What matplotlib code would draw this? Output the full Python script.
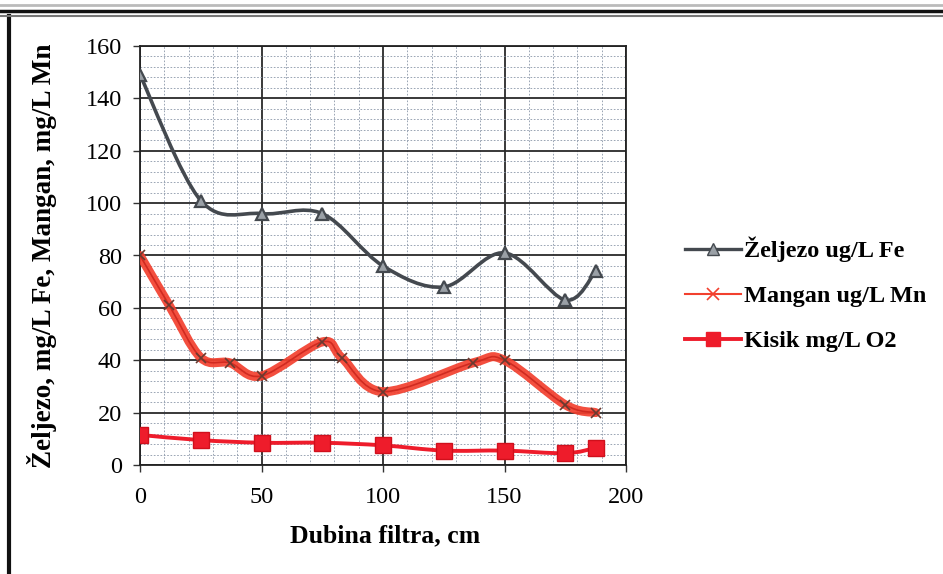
import matplotlib
matplotlib.use("Agg")
import matplotlib.pyplot as plt
import numpy as np
from matplotlib.path import Path
from matplotlib.patches import PathPatch
from matplotlib.lines import Line2D
from matplotlib.ticker import MultipleLocator

# ---- data ----
fe_x = [0, 25, 50, 75, 100, 125, 150, 175, 187.5]
fe_y = [149, 101, 96, 96, 76, 68, 81, 63, 74]

mn_x = [0, 12, 25, 37, 50, 75, 83, 100, 137, 150, 175, 187.5]
mn_y = [80, 61, 41, 39, 34, 47, 41, 28, 39, 40, 23, 20]

o2_x = [0, 25, 50, 75, 100, 125, 150, 175, 187.5]
o2_y = [11.5, 9.5, 8.5, 8.5, 7.5, 5.5, 5.5, 4.5, 6.5]

labels = ["Željezo ug/L Fe", "Mangan ug/L Mn", "Kisik mg/L O2"]
xlabel = "Dubina filtra, cm"
ylabel = "Željezo, mg/L Fe, Mangan, mg/L Mn"
xticks = [0, 50, 100, 150, 200]
yticks = [0, 20, 40, 60, 80, 100, 120, 140, 160]

plt.rcParams['font.family'] = ['Liberation Serif', 'DejaVu Serif']

fig = plt.figure(figsize=(9.43, 5.74), dpi=100)
ax = fig.add_axes([140/943, 1-465/574, (626-140)/943, (465-46)/574])


def smooth_path(xs, ys):
    pts = np.column_stack([xs, ys]).astype(float)
    n = len(pts)
    verts = [pts[0]]
    codes = [Path.MOVETO]
    for i in range(n - 1):
        p0 = pts[i - 1] if i > 0 else pts[i]
        p1 = pts[i]
        p2 = pts[i + 1]
        p3 = pts[i + 2] if i + 2 < n else pts[i + 1]
        c1 = p1 + (p2 - p0) / 6.0
        c2 = p2 - (p3 - p1) / 6.0
        verts += [c1, c2, p2]
        codes += [Path.CURVE4] * 3
    return Path(verts, codes)


fe_col = '#44494f'
mn_col = '#f2402e'
o2_col = '#ee1c2b'

# Mn thick band
ax.add_patch(PathPatch(smooth_path(mn_x, mn_y), fill=False, edgecolor=mn_col,
                       lw=6.5, alpha=0.92, zorder=3, capstyle='round', joinstyle='round'))
ax.add_patch(PathPatch(smooth_path(mn_x, mn_y), fill=False, edgecolor='#d02a20',
                       lw=1.2, zorder=3))
ax.plot(mn_x, mn_y, ls='none', marker='x', ms=7, mew=1.2, color='#6a3a30', zorder=4)

# Fe
ax.add_patch(PathPatch(smooth_path(fe_x, fe_y), fill=False, edgecolor=fe_col,
                       lw=2.6, zorder=3))
ax.plot(fe_x, fe_y, ls='none', marker='^', ms=9, mfc='#9aa0a6', mec=fe_col,
        mew=1.6, zorder=4)

# O2
ax.add_patch(PathPatch(smooth_path(o2_x, o2_y), fill=False, edgecolor=o2_col,
                       lw=2.8, zorder=3))
ax.plot(o2_x, o2_y, ls='none', marker='s', ms=11, mfc=o2_col, mec='#d0101c',
        zorder=4)

ax.set_xlim(0, 200)
ax.set_ylim(0, 160)
ax.set_xticks(xticks)
ax.set_yticks(yticks)
ax.xaxis.set_minor_locator(MultipleLocator(10))
ax.yaxis.set_minor_locator(MultipleLocator(4))
ax.grid(which='major', color='#2a2a2a', lw=1.3, zorder=0)
ax.grid(which='minor', color='#8a96a8', lw=0.6, ls=(0, (2, 2)), zorder=0)
ax.set_axisbelow(True)
ax.tick_params(which='minor', length=0)
ax.tick_params(which='major', length=5, width=1, labelsize=17.5, color='#333')
ax.tick_params(axis='x', pad=11)
ax.tick_params(axis='y', pad=8)
for s in ax.spines.values():
    s.set_color('#222')
    s.set_linewidth(1.3)

ax.set_xlabel(xlabel, fontsize=18.5, fontweight='bold')
ax.set_ylabel(ylabel, fontsize=19.5, fontweight='bold')
ax.xaxis.set_label_coords(0.504, -0.142)
ax.yaxis.set_label_coords(-0.17, 0.5)

handles = [
    Line2D([], [], color=fe_col, lw=2.4, marker='^', ms=8, mfc='#9aa0a6', mec=fe_col),
    Line2D([], [], color=mn_col, lw=1.5, marker='x', ms=9, mew=1.2),
    Line2D([], [], color=o2_col, lw=2.8, marker='s', ms=10, mfc=o2_col),
]
fig.legend(handles, labels, loc='center left', bbox_to_anchor=(0.703, 0.487),
           frameon=False, handlelength=2.3, handletextpad=0.15, labelspacing=0.95,
           prop={'size': 17.5, 'weight': 'bold'})

# outer frame of the scanned figure
fig.add_artist(Line2D([9/943, 9/943], [0, 1-16/574], transform=fig.transFigure,
                      color='#111', lw=3))
fig.add_artist(Line2D([0, 1], [1-11/574, 1-11/574], transform=fig.transFigure,
                      color='#111', lw=2.5))
fig.add_artist(Line2D([0, 1], [1-16/574, 1-16/574], transform=fig.transFigure,
                      color='#777', lw=1.5))
fig.add_artist(Line2D([0, 1], [1-5/574, 1-5/574], transform=fig.transFigure,
                      color='#bbb', lw=2))

fig.savefig("out.png", dpi=100)
